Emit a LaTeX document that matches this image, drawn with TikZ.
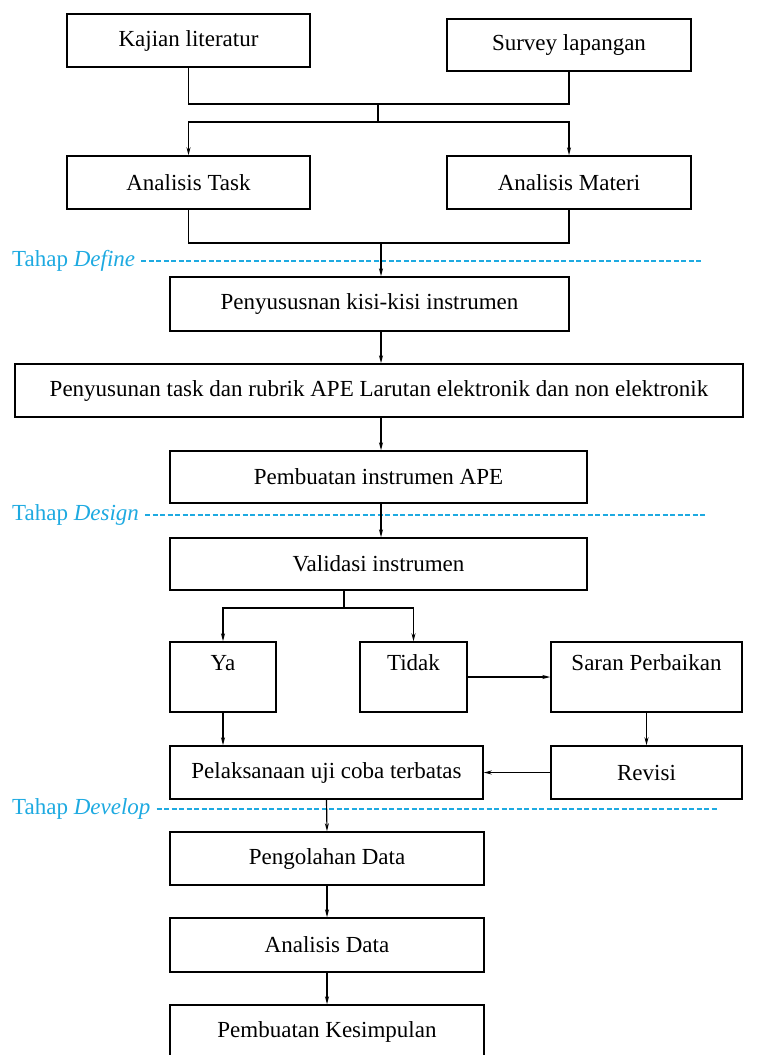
\documentclass[tikz,border=0pt]{standalone}
\usepackage{fontspec}
\setmainfont{Liberation Serif}
\usetikzlibrary{arrows.meta}
\definecolor{tahapblue}{RGB}{30,170,225}
\begin{document}
\begin{tikzpicture}[x=1pt,y=-1pt,
    box/.style={draw,line width=1.5pt,inner sep=0pt,font=\fontsize{23}{27}\selectfont},
    toptext/.style={text height=28pt,text depth=#1},
    link/.style={line width=1.2pt},
    arr/.style={link,-{Stealth[length=8pt,width=4pt]}},
    tahap/.style={tahapblue,anchor=west,inner sep=0pt,font=\fontsize{23}{27}\selectfont},
    tahapline/.style={tahapblue,line width=1.3pt,dash pattern=on 5pt off 2.5pt}]
  \useasboundingbox (0,0) rectangle (758,1055);
  \node[box,minimum width=243,minimum height=53] (kajian) at (188.5,40.5) {Kajian literatur};
  \node[box,minimum width=244,minimum height=52] (survey) at (569,45) {Survey lapangan};
  \node[box,minimum width=243,minimum height=53] (task) at (188.5,182.5) {Analisis Task};
  \node[box,minimum width=244,minimum height=53] (materi) at (569,182.5) {Analisis Materi};
  \node[box,minimum width=399,minimum height=54] (kisi) at (369.5,304) {Penyususnan kisi-kisi instrumen};
  \node[box,minimum width=728,minimum height=53] (rubrik) at (379,390.5)
    {Penyusunan task dan rubrik APE Larutan elektronik dan non elektronik};
  \node[box,minimum width=417,minimum height=52] (instrumen) at (378.5,477) {Pembuatan instrumen APE};
  \node[box,minimum width=417,minimum height=52] (validasi) at (378.5,564) {Validasi instrumen};
  \node[box,minimum width=106,toptext=42pt] (ya) at (223,677) {Ya};
  \node[box,minimum width=107,toptext=42pt] (tidak) at (413.5,677) {Tidak};
  \node[box,minimum width=191,toptext=42pt] (saran) at (646.5,677) {Saran Perbaikan};
  \node[box,minimum width=313,minimum height=53] (ujicoba) at (326.5,772.5) {Pelaksanaan uji coba terbatas};
  \node[box,minimum width=191,minimum height=53] (revisi) at (646.5,772.5) {Revisi};
  \node[box,minimum width=314,minimum height=53] (olah) at (327,858.5) {Pengolahan Data};
  \node[box,minimum width=314,minimum height=54] (analisis) at (327,945) {Analisis Data};
  \node[box,minimum width=314,minimum height=54] (simpulan) at (327,1032) {Pembuatan Kesimpulan};

  \node[tahap] (define) at (12,261) {Tahap \textit{Define}};
  \node[tahap] (design) at (12,515) {Tahap \textit{Design}};
  \node[tahap] (develop) at (12,809) {Tahap \textit{Develop}};
  \draw[tahapline] ([xshift=6pt]define.east) -- (703,261);
  \draw[tahapline] ([xshift=6pt]design.east) -- (706,515);
  \draw[tahapline] ([xshift=6pt]develop.east) -- (719,809);

  \coordinate (gabung) at (378,104);
  \coordinate (bagi) at (378,122);
  \coordinate (analisa) at (381,243);
  \coordinate (pilih) at (344,608);
  \draw[link] (kajian.south) |- (gabung) -| (survey.south);
  \draw[link] (gabung) -- (bagi);
  \draw[arr] (bagi) -| (task.north);
  \draw[arr] (bagi) -| (materi.north);
  \draw[link] (task.south) |- (analisa) -| (materi.south);
  \draw[arr] (analisa) -- (analisa |- kisi.north);
  \draw[arr] (kisi.south -| analisa) -- (rubrik.north -| analisa);
  \draw[arr] (rubrik.south -| analisa) -- (instrumen.north -| analisa);
  \draw[arr] (instrumen.south -| analisa) -- (validasi.north -| analisa);
  \draw[link] (validasi.south -| pilih) -- (pilih);
  \draw[arr] (pilih) -| (ya.north);
  \draw[arr] (pilih) -| (tidak.north);
  \draw[arr] (tidak.east) -- (saran.west);
  \draw[arr] (ya.south) -- (ya.south |- ujicoba.north);
  \draw[arr] (saran.south) -- (revisi.north);
  \draw[arr] (revisi.west) -- (ujicoba.east);
  \draw[arr] (ujicoba.south) -- (olah.north);
  \draw[arr] (olah.south) -- (analisis.north);
  \draw[arr] (analisis.south) -- (simpulan.north);
\end{tikzpicture}
\end{document}
